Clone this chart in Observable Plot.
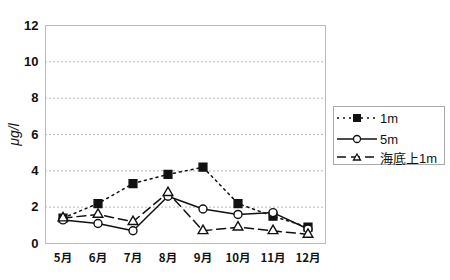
<!DOCTYPE html>
<html><head><meta charset="utf-8">
<script src="https://cdn.jsdelivr.net/npm/d3@7"></script>
<script src="https://cdn.jsdelivr.net/npm/@observablehq/plot@0.6"></script>
<style>
body{margin:0;background:#fff;}
#wrap{position:relative;width:450px;height:280px;font-family:"Liberation Sans","Noto Sans CJK JP",sans-serif;}
#legend{position:absolute;left:333px;top:106px;width:112px;height:59px;border:1px solid #aaa;box-sizing:border-box;background:#fff;}
.item{position:absolute;left:2px;height:18px;display:flex;align-items:center;font-size:13px;color:#111;}
.item svg{margin-right:2px;}
</style></head><body><div id="wrap"><div id="chart"></div><div id="legend"></div></div>
<script>
const months = ["5月","6月","7月","8月","9月","10月","11月","12月"];
const s1m  = [1.4, 2.2, 3.3, 3.8, 4.2, 2.2, 1.5, 0.9];
const s5m  = [1.3, 1.1, 0.7, 2.6, 1.9, 1.6, 1.7, 0.8];
const sSea = [1.4, 1.6, 1.2, 2.8, 0.7, 0.9, 0.7, 0.5];
const seriesNames = ["1m", "5m", "海底上1m"];
const yTicks = [0, 2, 4, 6, 8, 10, 12];
const yLabel = "μg/l";

const seriesVals = [s1m, s5m, sSea];
const styles = [
  {dash: "2,4", symbol: "square", fill: "#111", r: 4.4},
  {dash: null, symbol: "circle", fill: "#fff", r: 4.0},
  {dash: "9,5", symbol: "triangle", fill: "#fff", r: 3.6}
];
const data = seriesNames.flatMap((s, i) => months.map((m, j) => ({series: s, month: m, value: seriesVals[i][j]})));

const marks = [
  Plot.gridY(yTicks, {stroke: "#aaa", strokeOpacity: 1, strokeDasharray: "2,2", strokeWidth: 0.8}),
  Plot.frame({stroke: "#bbb", strokeWidth: 1})
];
seriesNames.forEach((s, i) => {
  const d = data.filter(r => r.series === s);
  marks.push(Plot.line(d, {x: "month", y: "value", stroke: "#111", strokeWidth: 1.5, strokeDasharray: styles[i].dash}));
});
seriesNames.forEach((s, i) => {
  const d = data.filter(r => r.series === s);
  marks.push(Plot.dot(d, {x: "month", y: "value", symbol: () => styles[i].symbol, r: styles[i].r, stroke: "#111", strokeWidth: 1.4, fill: styles[i].fill}));
});

const chart = Plot.plot({
  width: 450, height: 280,
  marginLeft: 45, marginRight: 125, marginTop: 25, marginBottom: 37,
  style: {fontFamily: "'Liberation Sans','Noto Sans CJK JP',sans-serif", fontSize: "12px", color: "#111", background: "#fff"},
  x: {type: "band", domain: months, padding: 0, label: null, tickSize: 0, tickPadding: 10},
  y: {domain: [0, 12], ticks: yTicks, tickSize: 0, tickPadding: 7, label: yLabel, labelAnchor: "center", labelArrow: "none", labelOffset: 36},
  symbol: {type: "identity"},
  marks
});
chart.querySelectorAll("g[aria-label='x-axis tick label'] text").forEach(t => {t.setAttribute("font-family","'Noto Sans CJK JP',sans-serif"); t.setAttribute("font-weight","bold"); t.setAttribute("font-size","11.5");});
chart.querySelectorAll("g[aria-label='y-axis tick label'] text").forEach(t => {t.setAttribute("font-size","13"); t.setAttribute("font-weight","bold");});
chart.querySelectorAll("g[aria-label='y-axis label'] text").forEach(t => {t.setAttribute("font-size","14"); t.setAttribute("font-style","italic");});
document.getElementById("chart").appendChild(chart);

const legend = document.getElementById("legend");
const tops = [2, 23, 41];
seriesNames.forEach((s, i) => {
  const st = styles[i];
  let marker;
  if (st.symbol === "square") marker = `<rect x="17" y="4" width="8" height="8" fill="#111"/>`;
  else if (st.symbol === "circle") marker = `<circle cx="21" cy="8" r="3.5" fill="#fff" stroke="#111" stroke-width="1.3"/>`;
  else marker = `<path d="M21,5 L24.5,11 L17.5,11 Z" fill="#fff" stroke="#111" stroke-width="1.3"/>`;
  const div = document.createElement("div");
  div.className = "item";
  div.style.top = tops[i] + "px";
  div.innerHTML = `<svg width="42" height="16"><line x1="1" y1="8" x2="41" y2="8" stroke="#111" stroke-width="1.5" ${st.dash ? `stroke-dasharray="${st.dash}"` : ""}/>${marker}</svg><span>${s}</span>`;
  legend.appendChild(div);
});
</script></body></html>
